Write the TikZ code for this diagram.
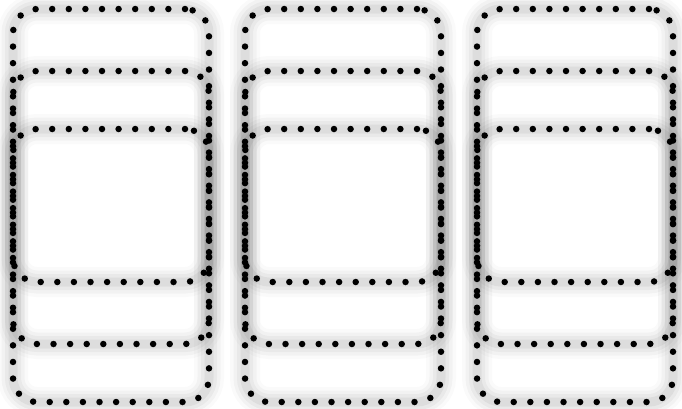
\documentclass[tikz,border=0pt]{standalone}
\usepackage{tikz}
\usetikzlibrary{positioning}

\begin{document}
\begin{tikzpicture}[x=1pt, y=-1pt,
  glow/.style={preaction={draw=black,solid,line width=30pt,draw opacity=.02},
               preaction={draw=black,solid,line width=23pt,draw opacity=.03},
               preaction={draw=black,solid,line width=16pt,draw opacity=.04},
               preaction={draw=black,solid,line width=9pt,draw opacity=.05}},
  frame/.style={draw,glow,dash pattern=on 0pt off 16.6pt,line cap=round,line width=6.5pt,
    rounded corners=24pt,inner sep=0pt,minimum width=196pt,minimum height=#1}]
\useasboundingbox (0,0) rectangle (682,408);
\foreach \c/\x in {a/111,b/343,c/575}{
  \node[frame=393pt] (\c-outer) at (\x,205.5) {};
  \node[frame=273pt] (\c-mid) at (\x,207.5) {};
  \node[frame=153pt] (\c-inner) at (\x,205.5) {};
}
\end{tikzpicture}
\end{document}
